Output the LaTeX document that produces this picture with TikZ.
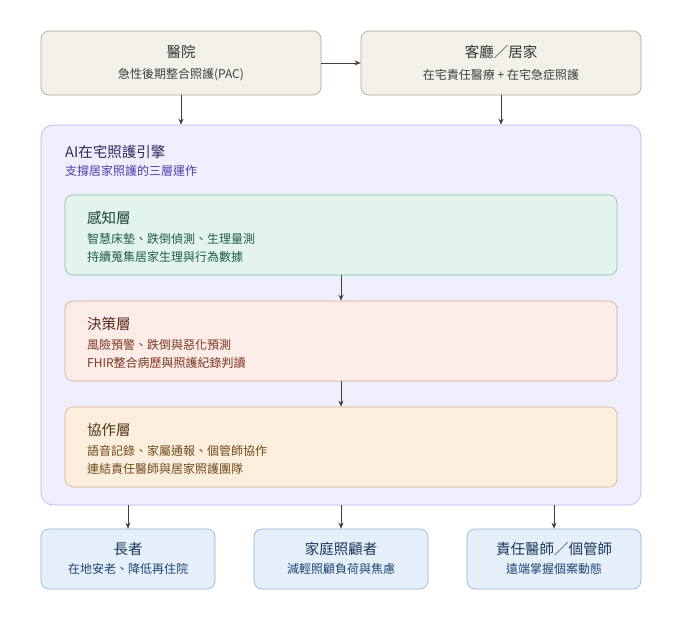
\documentclass[tikz,border=0pt]{standalone}
\usepackage{fontspec}
\setmainfont{Noto Sans CJK TC}
\usetikzlibrary{arrows.meta}
\definecolor{hfill}{HTML}{F3F0EA}\definecolor{hdraw}{HTML}{ABA596}
\definecolor{bfill}{HTML}{EFEEFC}\definecolor{bdraw}{HTML}{B9B2EA}
\definecolor{btit}{HTML}{2D2A5E}\definecolor{bsub}{HTML}{4B3FA8}
\definecolor{afill}{HTML}{E2F4EC}\definecolor{adraw}{HTML}{84C2A8}\definecolor{atext}{HTML}{1E5E45}
\definecolor{cfill}{HTML}{FBECE8}\definecolor{cdraw}{HTML}{DCA898}\definecolor{ctext}{HTML}{7A3520}
\definecolor{dfill}{HTML}{FBEEDC}\definecolor{ddraw}{HTML}{D6B287}\definecolor{dtext}{HTML}{6E4A1B}
\definecolor{efill}{HTML}{E5EFFA}\definecolor{edraw}{HTML}{8DB0D8}\definecolor{etext}{HTML}{1F4670}
\begin{document}
\begin{tikzpicture}[x=1pt,y=-1pt,
 box/.style={rounded corners=8pt,line width=0.6pt},
 tit/.style={font=\fontsize{14.5}{16}\selectfont},
 sub/.style={font=\fontsize{12}{14}\selectfont},
 arr/.style={-{Stealth[length=6pt,width=5pt]},line width=1pt,draw=black!75}]
\useasboundingbox (0,0) rectangle (681,621);
\node[box,fill=hfill,draw=hdraw,minimum width=280pt,minimum height=64pt] (hosp) at (181,63) {};
\node[tit,text=black!80] at (181,52) {醫院};
\node[sub,text=black!75] at (181,75) {急性後期整合照護(PAC)};
\node[box,fill=hfill,draw=hdraw,minimum width=280pt,minimum height=64pt] (home) at (501,63) {};
\node[tit,text=black!80] at (501,52) {客廳／居家};
\node[sub,text=black!75] at (501,75) {在宅責任醫療 + 在宅急症照護};
\node[box,fill=bfill,draw=bdraw,minimum width=600pt,minimum height=380pt,rounded corners=12pt] (eng) at (341,315) {};
\node[tit,text=btit,anchor=west,inner sep=0] at (65,152) {AI在宅照護引擎};
\node[sub,text=bsub,anchor=west,inner sep=0] at (65,171) {支撐居家照護的三層運作};
\foreach \n/\y/\f/\d/\t/\a/\b/\c in {
 l1/235/afill/adraw/atext/感知層/智慧床墊、跌倒偵測、生理量測/持續蒐集居家生理與行為數據,
 l2/341/cfill/cdraw/ctext/決策層/風險預警、跌倒與惡化預測/FHIR整合病歷與照護紀錄判讀,
 l3/447/dfill/ddraw/dtext/協作層/語音記錄、家屬通報、個管師協作/連結責任醫師與居家照護團隊}{
 \node[box,fill=\f,draw=\d,minimum width=552pt,minimum height=80pt] (\n) at (341,\y) {};
 \node[tit,text=\t!70!black,anchor=west,inner sep=0] at (87,\y-17) {\a};
 \node[sub,text=\t,anchor=west,inner sep=0] at (87,\y+4) {\b};
 \node[sub,text=\t,anchor=west,inner sep=0] at (87,\y+22) {\c};
}
\foreach \n/\x/\a/\b in {e1/128/長者/在地安老、降低再住院, e2/341/家庭照顧者/減輕照顧負荷與焦慮, e3/554/責任醫師／個管師/遠端掌握個案動態}{
 \node[box,fill=efill,draw=edraw,minimum width=174pt,minimum height=60pt] (\n) at (\x,559) {};
 \node[tit,text=etext!80!black] at (\x,549) {\a};
 \node[sub,text=etext] at (\x,569) {\b};
}
\draw[arr] (hosp.east) -- (home.west);
\draw[arr] (hosp.south) -- (hosp.south|-eng.north);
\draw[arr] (home.south) -- (home.south|-eng.north);
\draw[arr] (l1) -- (l2);
\draw[arr] (l2) -- (l3);
\draw[arr] (e1.north|-eng.south) -- (e1.north);
\draw[arr] (eng.south) -- (e2.north);
\draw[arr] (e3.north|-eng.south) -- (e3.north);
\end{tikzpicture}
\end{document}
